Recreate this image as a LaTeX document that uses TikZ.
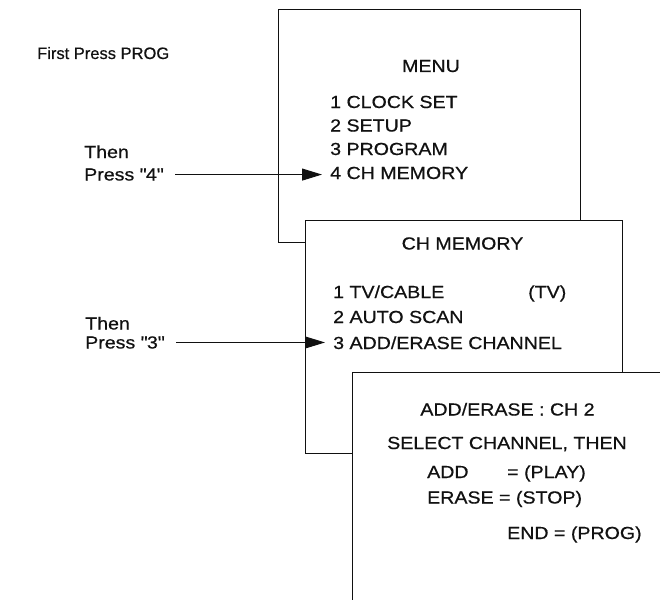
\documentclass[tikz,border=0pt]{standalone}
\usepackage{fontspec}
\setmainfont[FakeStretch=1.12,FakeBold=0.6]{Liberation Sans}
\newfontfamily\plainsans[FakeBold=0.6]{Liberation Sans}
\usepackage{tikz}
\usetikzlibrary{arrows.meta, positioning}
\definecolor{ink}{HTML}{111111}
\tikzset{
  screen/.style={draw=ink, fill=white, line width=0.9pt},
  entry/.style={anchor=base west, inner sep=0pt, text=ink, font=\fontsize{17.5}{21}\selectfont},
  heading/.style={anchor=base, inner sep=0pt, text=ink, font=\fontsize{17.5}{21}\selectfont},
  pointer/.style={draw=ink, line width=0.9pt, -{Triangle[length=20pt,width=12pt]}, shorten <=12pt, shorten >=8pt}
}
\begin{document}
\begin{tikzpicture}[x=1pt,y=-1pt]
\useasboundingbox (0,0) rectangle (660,599);
\clip (0,0) rectangle (660,599);
\node[anchor=base west, inner sep=0pt, text=ink, font=\plainsans\fontsize{16.5}{20}\selectfont] (first) at (37,59) {First Press PROG};

\draw[screen] (278,9) rectangle (580,242);
\node[heading] (menu) at (431,72) {MENU};
\node[entry] (clock) at (330,108) {1 CLOCK SET};
\node[entry] (setup) at (330,131.5) {2 SETUP};
\node[entry] (program) at (330,155) {3 PROGRAM};
\node[entry] (chmem) at (330,179) {4 CH MEMORY};

\draw[screen] (305,220) rectangle (622,453);
\node[heading] (chtitle) at (462.5,249.5) {CH MEMORY};
\node[entry] (tvcable) at (333,298) {1 TV/CABLE};
\node[entry] (tv) at (528,298) {(TV)};
\node[entry] (autoscan) at (333,323) {2 AUTO SCAN};
\node[entry] (adderase) at (333,349) {3 ADD/ERASE CHANNEL};

\draw[screen] (352,372) rectangle (720,660);
\node[heading] (aetitle) at (507.5,415.5) {ADD/ERASE : CH 2};
\node[heading] (select) at (507,449) {SELECT CHANNEL, THEN};
\node[entry] (add) at (427,478) {ADD};
\node[entry] (play) at (507,478) {= (PLAY)};
\node[entry] (erase) at (427,503.5) {ERASE = (STOP)};
\node[entry] (endprog) at (507,539) {END = (PROG)};

\node[entry] (then4) at (84,158) {Then};
\node[entry] (press4) at (84,180.5) {Press \textquotedbl 4\textquotedbl};
\node[entry] (then3) at (85,329.5) {Then};
\node[entry] (press3) at (85,348.5) {Press \textquotedbl 3\textquotedbl};

\draw[pointer] (press4.east) -- (press4.east -| chmem.west);
\draw[pointer] (press3.east) -- (press3.east -| adderase.west);
\end{tikzpicture}
\end{document}
